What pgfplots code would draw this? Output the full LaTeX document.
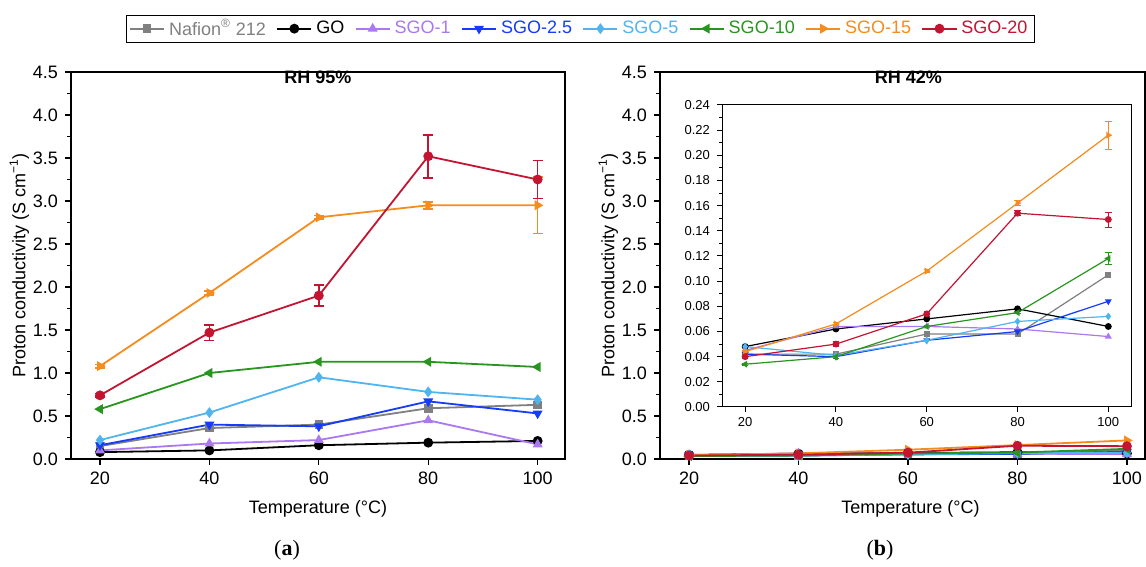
\documentclass[border=0pt]{standalone}
\usepackage{pgfplots}
\pgfplotsset{compat=1.18}
\usepackage{pgfplotstable}
\usepackage{fontspec}
\setmainfont{Liberation Sans}
\newfontfamily\seriffont{Liberation Serif}
\newcommand\fs{\fontsize{9}{10}\selectfont}

\definecolor{cnaf}{RGB}{128,128,128}
\definecolor{cgo}{RGB}{0,0,0}
\definecolor{cs1}{RGB}{170,120,240}
\definecolor{cs25}{RGB}{20,60,250}
\definecolor{cs5}{RGB}{80,180,240}
\definecolor{cs10}{RGB}{40,150,30}
\definecolor{cs15}{RGB}{245,140,30}
\definecolor{cs20}{RGB}{195,20,50}

% RH 95 %
\pgfplotstableread{
T   naf  go   s1   s25  s5   s10  s15  s20  e15  e20
20  0.15 0.08 0.10 0.16 0.22 0.58 1.08 0.74 0.02 0.02
40  0.36 0.10 0.18 0.40 0.54 1.00 1.93 1.47 0.02 0.09
60  0.40 0.16 0.22 0.38 0.95 1.13 2.81 1.90 0.02 0.12
80  0.59 0.19 0.45 0.67 0.78 1.13 2.95 3.52 0.04 0.25
100 0.63 0.21 0.17 0.53 0.69 1.07 2.95 3.25 0.33 0.22
}\dataA

% RH 42 %
\pgfplotstableread{
T   naf   go    s1    s25   s5    s10   s15   s20   e10   e15   e20
20  0.042 0.048 0.045 0.042 0.048 0.034 0.044 0.040 0.001 0.001 0.001
40  0.042 0.062 0.064 0.040 0.041 0.040 0.066 0.050 0.001 0.001 0.002
60  0.058 0.070 0.064 0.053 0.053 0.064 0.108 0.074 0.001 0.001 0.002
80  0.058 0.078 0.062 0.060 0.068 0.075 0.162 0.154 0.001 0.002 0.002
100 0.105 0.064 0.056 0.084 0.072 0.118 0.216 0.149 0.005 0.011 0.006
}\dataB

\pgfplotsset{
  mainax/.style={
    scale only axis, width=247pt, height=193.5pt,
    xmin=14.7, xmax=105, ymin=0, ymax=4.5,
    xtick={20,40,60,80,100},
    ytick={0,0.5,1,1.5,2,2.5,3,3.5,4,4.5},
    minor y tick num=1,
    tick align=outside, xtick pos=bottom, ytick pos=left,
    yticklabel style={/pgf/number format/.cd, fixed, fixed zerofill, precision=1},
    /pgf/number format/assume math mode=true,
    xlabel={Temperature (°C)},
    ylabel={Proton conductivity (S cm\textsuperscript{−1})},
    axis line style={line width=0.6pt},
    major tick length=3pt, minor tick length=1.8pt,
    every tick/.style={black, line width=0.6pt},
    tick label style={font=\fs},
    label style={font=\fs},
    xlabel style={yshift=-1pt},
    ylabel style={yshift=-5pt},
    title style={font=\bfseries\fs, at={(0.5,1)}, anchor=north, yshift=-2pt},
    clip=false,
  },
  sNaf/.style={color=cnaf, mark=square*, mark options={scale=0.85}},
  sGO/.style={color=cgo, mark=*},
  sS1/.style={color=cs1, mark=triangle*},
  sS25/.style={color=cs25, mark=triangle*, mark options={rotate=180}},
  sS5/.style={color=cs5, mark=diamond*},
  sS10/.style={color=cs10, mark=triangle*, mark options={rotate=90}},
  sS15/.style={color=cs15, mark=triangle*, mark options={rotate=-90}},
  sS20/.style={color=cs20, mark=*},
  big/.style={line width=0.9pt, mark size=2pt},
  small/.style={line width=0.6pt, mark size=1.4pt},
  eb/.style={error bars/.cd, y dir=both, y explicit,
    error bar style={line width=0.8pt},
    error mark options={rotate=90, mark size=2.5pt, line width=0.8pt}},
}

\begin{document}
\begin{tikzpicture}[x=1pt,y=1pt]
\useasboundingbox (0,0) rectangle (573,283.5);

% ---------- Panel (a) ----------
\begin{axis}[mainax, at={(35.5pt,54pt)}, anchor=south west,
  title={RH 95\%},
  legend style={at={(1.031,1.112)}, anchor=center, legend columns=8,
    draw=black, font=\fs, inner xsep=1.5pt, inner ysep=0pt,
    /tikz/every even column/.append style={column sep=3.2pt}},
  legend cell align=left]
\addplot[sNaf, big] table[x=T, y=naf] {\dataA};
\addplot[sGO, big] table[x=T, y=go] {\dataA};
\addplot[sS1, big] table[x=T, y=s1] {\dataA};
\addplot[sS25, big] table[x=T, y=s25] {\dataA};
\addplot[sS5, big] table[x=T, y=s5] {\dataA};
\addplot[sS10, big] table[x=T, y=s10] {\dataA};
\addplot[sS15, big, eb] table[x=T, y=s15, y error=e15] {\dataA};
\addplot[sS20, big, eb] table[x=T, y=s20, y error=e20] {\dataA};
\legend{\textcolor{cnaf}{Nafion\textsuperscript{®} 212}, GO,
  \textcolor{cs1}{SGO-1}, \textcolor{cs25}{SGO-2.5}, \textcolor{cs5}{SGO-5},
  \textcolor{cs10}{SGO-10}, \textcolor{cs15}{SGO-15}, \textcolor{cs20}{SGO-20}}
\end{axis}

% ---------- Panel (b) ----------
\begin{axis}[mainax, at={(330pt,54pt)}, anchor=south west,
  width=242.5pt, xmax=103.3,
  xlabel style={xshift=4pt},
  title={RH 42\%}, title style={xshift=3pt}]
\addplot[sNaf, big] table[x=T, y=naf] {\dataB};
\addplot[sGO, big] table[x=T, y=go] {\dataB};
\addplot[sS1, big] table[x=T, y=s1] {\dataB};
\addplot[sS25, big] table[x=T, y=s25] {\dataB};
\addplot[sS5, big] table[x=T, y=s5] {\dataB};
\addplot[sS10, big] table[x=T, y=s10] {\dataB};
\addplot[sS15, big] table[x=T, y=s15] {\dataB};
\addplot[sS20, big] table[x=T, y=s20] {\dataB};
\end{axis}

% ---------- Inset ----------
\begin{axis}[at={(361pt,80pt)}, anchor=south west,
  scale only axis, width=204.5pt, height=151pt,
  xmin=14.9, xmax=105, ymin=0, ymax=0.24,
  xtick={20,40,60,80,100},
  ytick={0,0.02,0.04,0.06,0.08,0.10,0.12,0.14,0.16,0.18,0.20,0.22,0.24},
  minor y tick num=1,
  tick align=outside, xtick pos=bottom, ytick pos=left,
  yticklabel style={/pgf/number format/.cd, fixed, fixed zerofill, precision=2},
  /pgf/number format/assume math mode=true,
  tick label style={font=\fontsize{6.5}{7}\selectfont},
  xticklabel style={yshift=1pt},
  axis line style={line width=0.5pt},
  major tick length=2.5pt, minor tick length=1.5pt,
  every tick/.style={black, line width=0.5pt},
  axis background/.style={fill=white}]
\addplot[sNaf, small] table[x=T, y=naf] {\dataB};
\addplot[sGO, small] table[x=T, y=go] {\dataB};
\addplot[sS1, small] table[x=T, y=s1] {\dataB};
\addplot[sS25, small] table[x=T, y=s25] {\dataB};
\addplot[sS5, small] table[x=T, y=s5] {\dataB};
\addplot[sS10, small, eb, error mark options={rotate=90, mark size=1.6pt}] table[x=T, y=s10, y error=e10] {\dataB};
\addplot[sS15, small, eb, error mark options={rotate=90, mark size=1.6pt}] table[x=T, y=s15, y error=e15] {\dataB};
\addplot[sS20, small, eb, error mark options={rotate=90, mark size=1.6pt}] table[x=T, y=s20, y error=e20] {\dataB};
\end{axis}

\node[font=\seriffont\fontsize{11}{12}\selectfont] at (143.5,8.5) {(\textbf{a})};
\node[font=\seriffont\fontsize{11}{12}\selectfont] at (440,8.5) {(\textbf{b})};
\end{tikzpicture}
\end{document}
